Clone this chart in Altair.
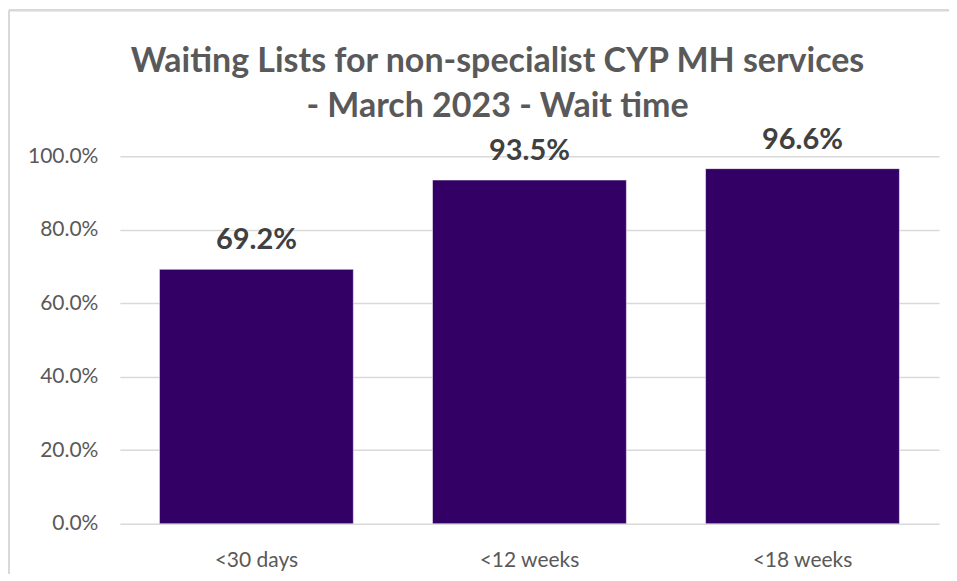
import altair as alt
import pandas as pd

categories = ["<30 days", "<12 weeks", "<18 weeks"]
values = [0.692, 0.935, 0.966]
labels = ["69.2%", "93.5%", "96.6%"]
y_ticks = [0.0, 0.2, 0.4, 0.6, 0.8, 1.0]

df = pd.DataFrame({"category": categories, "value": values, "label": labels})

W, H = 820, 368
FONT = "Lato"

x_enc = alt.X("category:N", sort=categories,
              scale=alt.Scale(paddingInner=0.29, paddingOuter=0.145),
              axis=alt.Axis(title=None, labelAngle=0, labelFontSize=21, labelColor="#595959",
                            labelPadding=26, ticks=False, domain=False, grid=False,
                            labelFont=FONT))
y_enc = alt.Y("value:Q", scale=alt.Scale(domain=[0, 1], nice=False),
              axis=alt.Axis(title=None, values=y_ticks, format=".1%", labelFontSize=21,
                            labelColor="#595959", labelPadding=22, ticks=False, domain=False,
                            gridColor="#d9d9d9", gridWidth=1.5, labelFont=FONT))

bars = alt.Chart(df).mark_bar(color="#330066", stroke="#ffffff", strokeWidth=0.5).encode(x=x_enc, y=y_enc)
text = alt.Chart(df).mark_text(dy=-20, baseline="alphabetic", fontSize=29, fontWeight="bold",
                               color="#404040", font=FONT).encode(
    x=alt.X("category:N", sort=categories), y="value:Q", text="label:N")

border_v = alt.Chart(df).mark_rule(color="#d9d9d9", strokeWidth=2).encode(
    x=alt.value(-111), y=alt.value(-146), y2=alt.value(H + 70))
border_h = alt.Chart(df).mark_rule(color="#d9d9d9", strokeWidth=2).encode(
    x=alt.value(-111), x2=alt.value(W + 40), y=alt.value(-146))

chart = alt.layer(bars, text, border_v, border_h).properties(
    width=W, height=H,
    autosize=alt.AutoSizeParams(type="none"),
    padding={"left": 112, "top": 148, "right": 10, "bottom": 50},
    title=alt.TitleParams(
        text=["Waiting Lists for non-specialist CYP MH services", "- March 2023 - Wait time"],
        fontSize=34, font=FONT, fontWeight="bold", color="#595959", lineHeight=45,
        anchor="middle", frame="group", offset=0, dx=-32, dy=115),
).configure_view(stroke=None)

chart.save("out.html", embed_options={"renderer": "svg", "actions": False})
